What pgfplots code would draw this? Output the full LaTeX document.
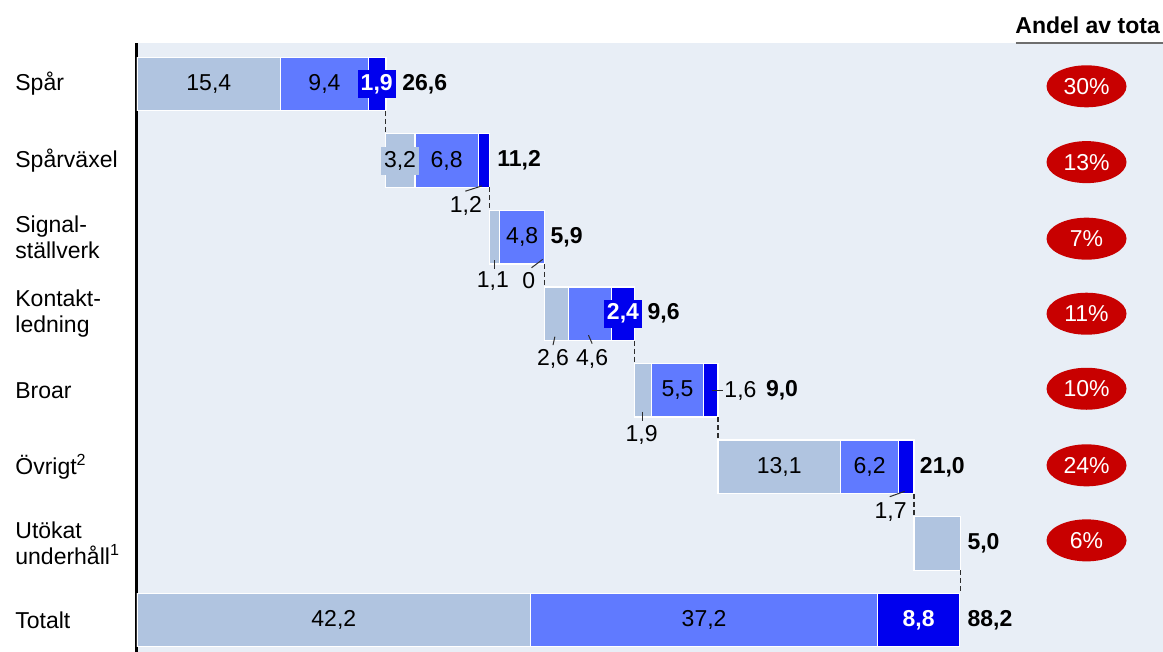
\documentclass[border=0pt]{standalone}
\usepackage{pgfplots}
\pgfplotsset{compat=1.18}
\usepackage{pgfplotstable}
\usepackage{fontspec}
\setmainfont{Liberation Sans}
\usetikzlibrary{shapes.geometric}

\definecolor{panel}{RGB}{232,238,246}
\definecolor{segA}{RGB}{176,196,224}
\definecolor{segB}{RGB}{96,122,255}
\definecolor{segC}{RGB}{0,0,238}
\definecolor{badge}{RGB}{200,0,0}
\definecolor{rulegray}{RGB}{110,110,110}
\definecolor{leader}{RGB}{45,45,45}

\newcommand\chartfont{\fontsize{11.5pt}{13pt}\selectfont}

% waterfall: invisible offset, then the three cost components
\pgfplotstableread{
row start lt   md   dk
0   0     15.4 9.4  1.9
1   26.6  3.2  6.8  1.2
2   37.8  1.1  4.8  0
3   43.7  2.6  4.6  2.4
4   53.3  1.9  5.5  1.6
5   62.3  13.1 6.2  1.7
6   83.3  5.0  0    0
7   0     42.2 37.2 8.8
}\bars

% values set inside the segments
\pgfplotstableread{
x     y    lab
7.7   0    15,4
20.1  0    9,4
33.2  1    6,8
41.3  2    4,8
57.95 4    5,5
68.85 5    13,1
78.55 5    6,2
21.1  7    42,2
60.8  7    37,2
35.26 1.59 1,2
38.16 2.57 1,1
42.0  2.57 0
44.6  3.59 2,6
48.8  3.59 4,6
64.7  4.01 1,6
54.1  4.58 1,9
80.8  5.59 1,7
}\plainlabels

\pgfplotstableread{
x    y lab
28.2 1 3,2
}\lightlabels

\pgfplotstableread{
x    y lab
25.7 0 1,9
52.1 3 2,4
83.8 7 8,8
}\darklabels

% row totals
\pgfplotstableread{
x    y lab
28.4 0 26,6
38.6 1 11,2
44.3 2 5,9
54.7 3 9,6
67.4 4 9,0
83.9 5 21,0
89.0 6 5,0
89.0 7 88,2
}\totals

% share of the total
\pgfplotstableread{
x     y    lab
101.8 0.03 30\%
101.8 1.02 13\%
101.8 2.02 7\%
101.8 3.00 11\%
101.8 3.98 10\%
101.8 4.98 24\%
101.8 5.96 6\%
}\shares

\pgfplotsset{
  panelframe/.style={
    width=513pt, height=304.5pt, scale only axis,
    xmin=0, xmax=110, ymin=-0.5355, ymax=7.418, y dir=reverse,
    font=\chartfont,
  },
  seg/.style={fill=#1, draw=white, line width=0.6pt},
  textplot/.style={draw=none, mark=none, nodes near coords,
    point meta=explicit symbolic,
    nodes near coords style={font=\chartfont, inner sep=0pt, #1}},
  link/.style={draw=leader, line width=0.5pt, mark=none},
  stepline/.style={draw=leader, line width=0.6pt, mark=none,
    dash pattern=on 2.5pt off 1.5pt},
}

\begin{document}
\begin{tikzpicture}
\useasboundingbox (-68.5pt,0pt) rectangle (513pt,326pt);

\begin{axis}[panelframe,
  xbar stacked, bar width=0.7,
  axis background/.style={fill=panel},
  axis x line=none, axis y line*=left,
  y axis line style={line width=1.5pt, black, -},
  xtick=\empty, ytick={0,...,7}, major tick length=0pt,
  yticklabels={Spår, Spårväxel, {Signal-\\ställverk}, {Kontakt-\\ledning},
    Broar, {Övrigt\textsuperscript{2}}, {Utökat\\underhåll\textsuperscript{1}}, Totalt},
  yticklabel style={anchor=west, align=left, xshift=-61pt, inner sep=0pt, font=\chartfont},
]
\addplot[draw=none, fill=none] table[x=start, y=row] {\bars};
\addplot[seg=segA] table[x=lt, y=row] {\bars};
\addplot[seg=segB] table[x=md, y=row] {\bars};
\addplot[seg=segC] table[x=dk, y=row] {\bars};
\end{axis}

\begin{axis}[panelframe, hide axis, clip=false]
% dashed steps from one bar to the next
\addplot[stepline] coordinates {(26.6,0.35) (26.6,0.65)};
\addplot[stepline] coordinates {(37.8,1.35) (37.8,1.65)};
\addplot[stepline] coordinates {(43.7,2.35) (43.7,2.65)};
\addplot[stepline] coordinates {(53.3,3.35) (53.3,3.65)};
\addplot[stepline] coordinates {(62.3,4.35) (62.3,4.65)};
\addplot[stepline] coordinates {(83.3,5.35) (83.3,5.65)};
\addplot[stepline] coordinates {(88.3,6.35) (88.3,6.65)};
% leader lines to labels of narrow segments
\addplot[link] coordinates {(35.2,1.40) (37.0,1.33)};
\addplot[link] coordinates {(38.3,2.30) (38.3,2.42)};
\addplot[link] coordinates {(42.3,2.40) (43.5,2.29)};
\addplot[link] coordinates {(44.8,3.30) (44.6,3.41)};
\addplot[link] coordinates {(48.4,3.28) (48.8,3.39)};
\addplot[link] coordinates {(61.7,4.00) (62.8,4.00)};
\addplot[link] coordinates {(54.2,4.28) (54.2,4.40)};
\addplot[link] coordinates {(80.7,5.39) (82.3,5.32)};

\addplot[textplot={anchor=center}] table[meta=lab] {\plainlabels};
\addplot[textplot={anchor=center, fill=segA, inner xsep=1.5pt, minimum height=14pt}] table[meta=lab] {\lightlabels};
\addplot[textplot={anchor=center, fill=segC, text=white, font=\chartfont\bfseries, inner xsep=1.5pt, minimum height=14pt}] table[meta=lab] {\darklabels};
\addplot[textplot={anchor=west, font=\chartfont\bfseries}] table[meta=lab] {\totals};
\addplot[textplot={anchor=center, ellipse, fill=badge, text=white, minimum width=40pt, minimum height=21pt}] table[meta=lab] {\shares};

% column heading
\node[anchor=base east, inner sep=0pt, font=\chartfont\bfseries] at (axis cs:109.7,-0.666) {Andel av tota};
\draw[rulegray, line width=1pt] (axis cs:94.2,-0.5355) -- (axis cs:110,-0.5355);
\end{axis}
\end{tikzpicture}
\end{document}
